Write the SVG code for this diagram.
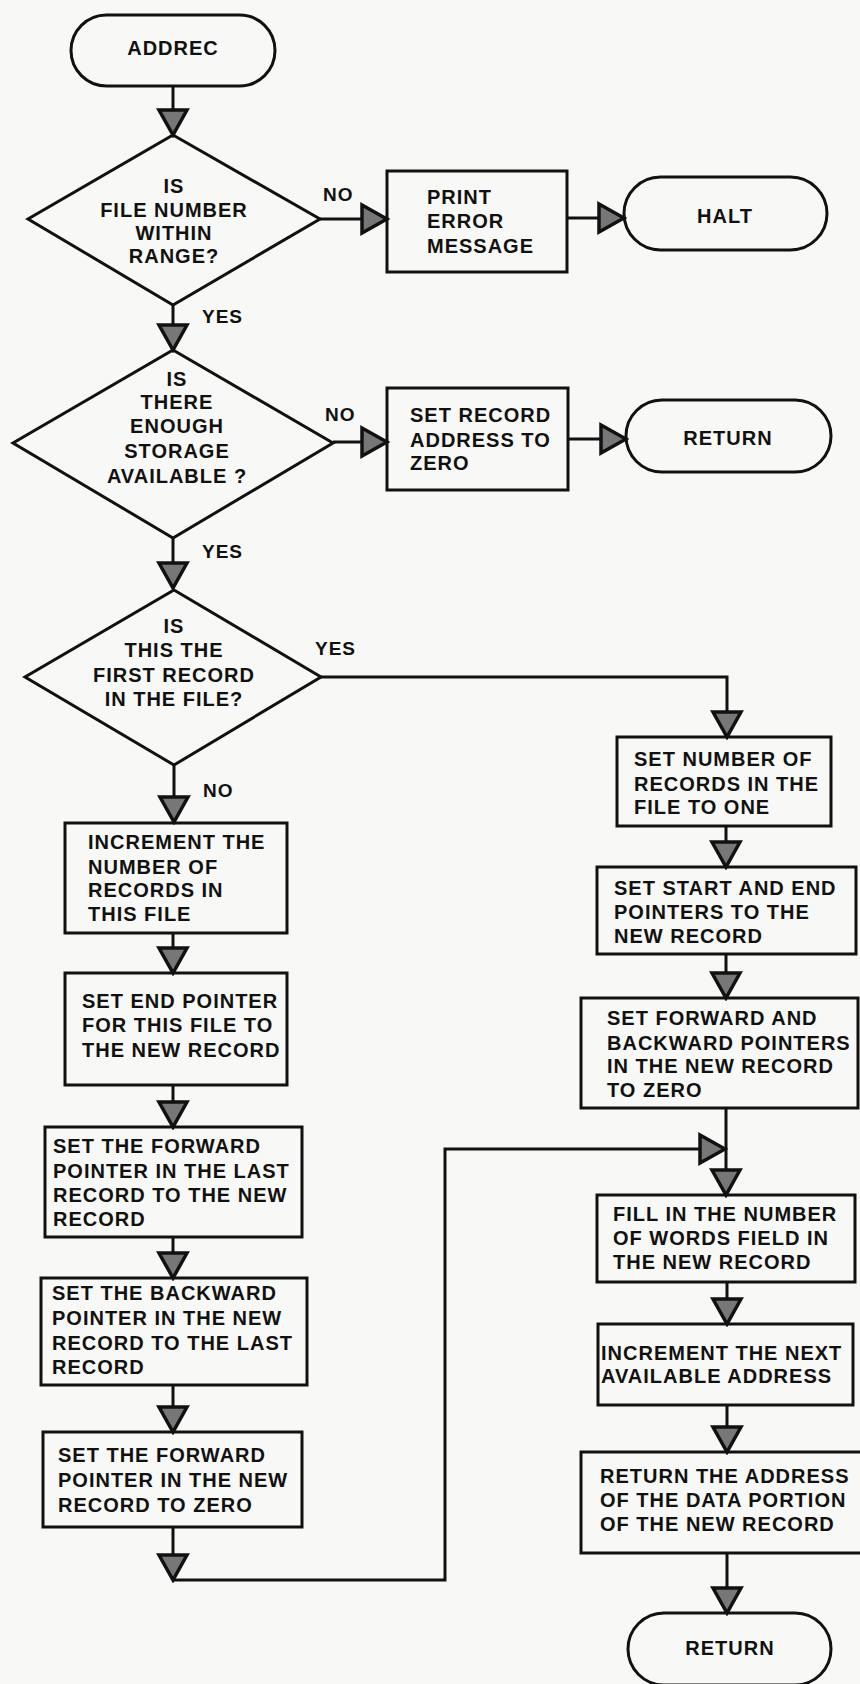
<svg xmlns="http://www.w3.org/2000/svg" width="860" height="1684" viewBox="0 0 860 1684">
  <style>
    .shape { fill: none; stroke: #111; stroke-width: 3; }
    .wire { fill: none; stroke: #111; stroke-width: 3; stroke-linejoin: miter; }
    .txt { font-family: "Liberation Sans", Arial, sans-serif; font-weight: bold; font-size: 20px; letter-spacing: 1px; fill: #111; }
    .mid { text-anchor: middle; }
    .lbl { font-family: "Liberation Sans", Arial, sans-serif; font-weight: bold; font-size: 19px; letter-spacing: 1px; fill: #111; }
  </style>
  <defs>
    <marker id="arrow" markerUnits="userSpaceOnUse" viewBox="-3 -3 31 34" markerWidth="31" markerHeight="34" refX="25" refY="14" orient="auto">
      <path d="M0,0 L25,14 L0,28 Z" fill="#777" stroke="#111" stroke-width="3.5" stroke-linejoin="miter"/>
    </marker>
  </defs>

  <rect width="860" height="1684" fill="#f8f8f6"/>

  <!-- connectors -->
  <g id="connectors">
    <path class="wire" d="M173,86 V135" marker-end="url(#arrow)"/>
    <path class="wire" d="M173,305 V350" marker-end="url(#arrow)"/>
    <path class="wire" d="M320,219 H387" marker-end="url(#arrow)"/>
    <path class="wire" d="M567,218 H624" marker-end="url(#arrow)"/>
    <path class="wire" d="M333,442 H387" marker-end="url(#arrow)"/>
    <path class="wire" d="M568,439 H626" marker-end="url(#arrow)"/>
    <path class="wire" d="M173,538 V588" marker-end="url(#arrow)"/>
    <path class="wire" d="M321,677 H727 V737" marker-end="url(#arrow)"/>
    <path class="wire" d="M174,765 V822" marker-end="url(#arrow)"/>
    <path class="wire" d="M173,933 V973" marker-end="url(#arrow)"/>
    <path class="wire" d="M173,1085 V1127" marker-end="url(#arrow)"/>
    <path class="wire" d="M173,1237 V1278" marker-end="url(#arrow)"/>
    <path class="wire" d="M173,1385 V1432" marker-end="url(#arrow)"/>
    <path class="wire" d="M173,1527 V1580" marker-end="url(#arrow)"/>
    <path class="wire" d="M173,1580 H445 V1149 H725" marker-end="url(#arrow)"/>
    <path class="wire" d="M726,826 V867" marker-end="url(#arrow)"/>
    <path class="wire" d="M726,954 V998" marker-end="url(#arrow)"/>
    <path class="wire" d="M726,1108 V1195" marker-end="url(#arrow)"/>
    <path class="wire" d="M727,1282 V1324" marker-end="url(#arrow)"/>
    <path class="wire" d="M727,1405 V1452" marker-end="url(#arrow)"/>
    <path class="wire" d="M727,1553 V1613" marker-end="url(#arrow)"/>

    <text class="lbl" x="323" y="201">NO</text>
    <text class="lbl" x="202" y="323">YES</text>
    <text class="lbl" x="325" y="421">NO</text>
    <text class="lbl" x="202" y="558">YES</text>
    <text class="lbl" x="315" y="655">YES</text>
    <text class="lbl" x="203" y="797">NO</text>
  </g>

  <g id="start">
    <rect class="shape" x="71" y="15" width="204" height="71" rx="35.5"/>
    <text class="txt mid" x="173" y="55">ADDREC</text>
  </g>

  <g id="check-file-number">
    <polygon class="shape" points="173,135 320,219 173,305 28,219"/>
    <text class="txt mid" x="174" y="193">IS</text>
    <text class="txt mid" x="174" y="217">FILE NUMBER</text>
    <text class="txt mid" x="174" y="240">WITHIN</text>
    <text class="txt mid" x="174" y="263">RANGE?</text>
  </g>

  <g id="print-error">
    <rect class="shape" x="387" y="171" width="180" height="101"/>
    <text class="txt" x="427" y="204">PRINT</text>
    <text class="txt" x="427" y="228">ERROR</text>
    <text class="txt" x="427" y="253">MESSAGE</text>
  </g>

  <g id="halt">
    <rect class="shape" x="624" y="177" width="203" height="73" rx="36.5"/>
    <text class="txt mid" x="725" y="223">HALT</text>
  </g>

  <g id="check-storage">
    <polygon class="shape" points="173,350 333,443 173,538 13,443"/>
    <text class="txt mid" x="177" y="386">IS</text>
    <text class="txt mid" x="177" y="409">THERE</text>
    <text class="txt mid" x="177" y="433">ENOUGH</text>
    <text class="txt mid" x="177" y="458">STORAGE</text>
    <text class="txt mid" x="177" y="483">AVAILABLE ?</text>
  </g>

  <g id="zero-address">
    <rect class="shape" x="387" y="388" width="181" height="102"/>
    <text class="txt" x="410" y="422">SET RECORD</text>
    <text class="txt" x="410" y="447">ADDRESS TO</text>
    <text class="txt" x="410" y="470">ZERO</text>
  </g>

  <g id="return-zero">
    <rect class="shape" x="626" y="400" width="205" height="72" rx="36"/>
    <text class="txt mid" x="728" y="445">RETURN</text>
  </g>

  <g id="check-first">
    <polygon class="shape" points="174,590 321,677 174,765 25,677"/>
    <text class="txt mid" x="174" y="633">IS</text>
    <text class="txt mid" x="174" y="657">THIS THE</text>
    <text class="txt mid" x="174" y="682">FIRST RECORD</text>
    <text class="txt mid" x="174" y="706">IN THE FILE?</text>
  </g>

  <g id="increment-count">
    <rect class="shape" x="65" y="823" width="222" height="110"/>
    <text class="txt" x="88" y="849">INCREMENT THE</text>
    <text class="txt" x="88" y="874">NUMBER OF</text>
    <text class="txt" x="88" y="897">RECORDS IN</text>
    <text class="txt" x="88" y="921">THIS FILE</text>
  </g>

  <g id="set-end-pointer">
    <rect class="shape" x="65" y="973" width="222" height="112"/>
    <text class="txt" x="82" y="1008">SET END POINTER</text>
    <text class="txt" x="82" y="1032">FOR THIS FILE TO</text>
    <text class="txt" x="82" y="1057">THE NEW RECORD</text>
  </g>

  <g id="link-last-forward">
    <rect class="shape" x="45" y="1127" width="257" height="110"/>
    <text class="txt" x="53" y="1153">SET THE FORWARD</text>
    <text class="txt" x="53" y="1178">POINTER IN THE LAST</text>
    <text class="txt" x="53" y="1202">RECORD TO THE NEW</text>
    <text class="txt" x="53" y="1226">RECORD</text>
  </g>

  <g id="link-new-backward">
    <rect class="shape" x="41" y="1278" width="266" height="107"/>
    <text class="txt" x="52" y="1300">SET THE BACKWARD</text>
    <text class="txt" x="52" y="1325">POINTER IN THE NEW</text>
    <text class="txt" x="52" y="1350">RECORD TO THE LAST</text>
    <text class="txt" x="52" y="1374">RECORD</text>
  </g>

  <g id="clear-new-forward">
    <rect class="shape" x="43" y="1432" width="259" height="95"/>
    <text class="txt" x="58" y="1462">SET THE FORWARD</text>
    <text class="txt" x="58" y="1487">POINTER IN THE NEW</text>
    <text class="txt" x="58" y="1512">RECORD TO ZERO</text>
  </g>

  <g id="set-count-one">
    <rect class="shape" x="617" y="737" width="214" height="89"/>
    <text class="txt" x="634" y="766">SET NUMBER OF</text>
    <text class="txt" x="634" y="791">RECORDS IN THE</text>
    <text class="txt" x="634" y="814">FILE TO ONE</text>
  </g>

  <g id="set-start-end">
    <rect class="shape" x="597" y="867" width="259" height="87"/>
    <text class="txt" x="614" y="895">SET START AND END</text>
    <text class="txt" x="614" y="919">POINTERS TO THE</text>
    <text class="txt" x="614" y="943">NEW RECORD</text>
  </g>

  <g id="clear-links">
    <rect class="shape" x="581" y="998" width="277" height="110"/>
    <text class="txt" x="607" y="1025">SET FORWARD AND</text>
    <text class="txt" x="607" y="1050">BACKWARD POINTERS</text>
    <text class="txt" x="607" y="1073">IN THE NEW RECORD</text>
    <text class="txt" x="607" y="1097">TO ZERO</text>
  </g>

  <g id="fill-word-count">
    <rect class="shape" x="597" y="1195" width="258" height="87"/>
    <text class="txt" x="613" y="1221">FILL IN THE NUMBER</text>
    <text class="txt" x="613" y="1245">OF WORDS FIELD IN</text>
    <text class="txt" x="613" y="1269">THE NEW RECORD</text>
  </g>

  <g id="bump-next-address">
    <rect class="shape" x="598" y="1324" width="255" height="81"/>
    <text class="txt" x="601" y="1360">INCREMENT THE NEXT</text>
    <text class="txt" x="601" y="1383">AVAILABLE ADDRESS</text>
  </g>

  <g id="return-data-address">
    <rect class="shape" x="581" y="1452" width="281" height="101"/>
    <text class="txt" x="600" y="1483">RETURN THE ADDRESS</text>
    <text class="txt" x="600" y="1507">OF THE DATA PORTION</text>
    <text class="txt" x="600" y="1531">OF THE NEW RECORD</text>
  </g>

  <g id="return-end">
    <rect class="shape" x="628" y="1613" width="203" height="72" rx="36"/>
    <text class="txt mid" x="730" y="1655">RETURN</text>
  </g>
</svg>
